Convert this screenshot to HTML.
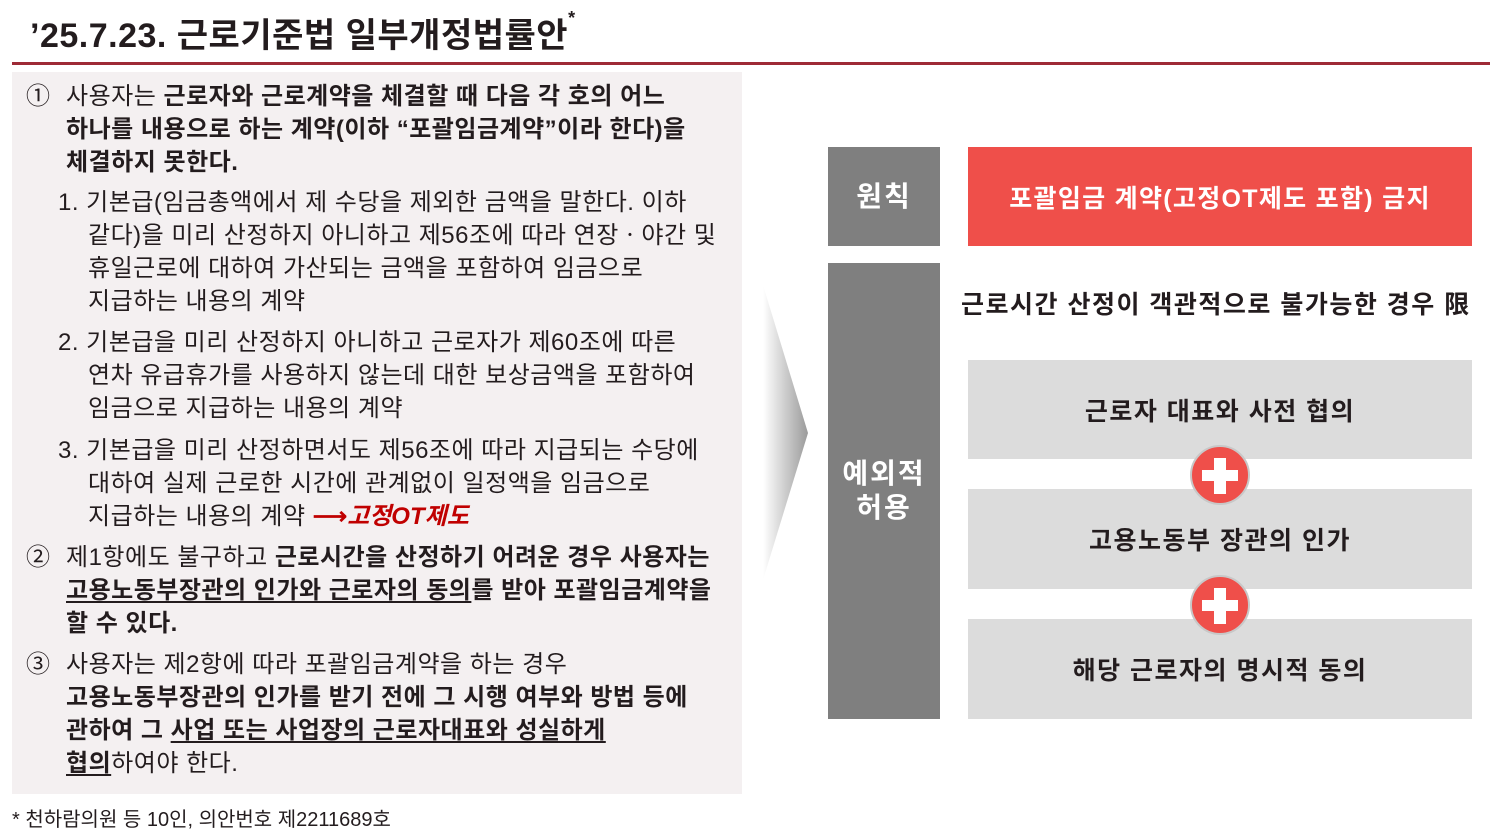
<!DOCTYPE html>
<html><head><meta charset="utf-8"><style>
*{margin:0;padding:0;box-sizing:border-box}
body{width:1493px;height:839px;background:#fff;position:relative;overflow:hidden;font-family:"Liberation Sans","Noto Sans CJK KR",sans-serif;color:#231c1e}
.a{position:absolute;white-space:nowrap}
.t{font-size:34px;font-weight:bold;left:30px;top:8px;letter-spacing:0.5px}
.rule{left:12px;top:62px;width:1478px;height:3px;background:#9e2a36}
.panel{left:12px;top:72px;width:730px;height:722px;background:#f4f0f1}
.l{font-size:24px;line-height:30px;letter-spacing:0.5px}
b{font-weight:bold}
u{text-decoration:underline;text-underline-offset:3px}
.gbox{background:#7f7f7f;color:#fff;font-weight:bold;font-size:28px;letter-spacing:2px;display:flex;align-items:center;justify-content:center;text-align:center;line-height:34px}
.lb{background:#dcdcdc;display:flex;align-items:center;justify-content:center;font-weight:bold;font-size:25px;letter-spacing:1.5px}
.plus{width:60px;height:60px;border-radius:50%;background:#ef4f4a;border:2px solid #c8c8c8}
.plus:before,.plus:after{content:"";position:absolute;background:#fff}
.plus:before{left:10px;top:23px;width:36px;height:11px}
.plus:after{left:22px;top:11px;width:12px;height:36px}
</style></head><body>
<div class="a t">’25.7.23. 근로기준법 일부개정법률안<span style="font-size:18px;vertical-align:top">*</span></div>
<div class="a rule"></div>
<div class="a panel"></div>

<div class="a l" style="left:26px;top:82px">①</div>
<div class="a l" style="left:66px;top:82px">사용자는 <b>근로자와 근로계약을 체결할 때 다음 각 호의 어느</b></div>
<div class="a l" style="left:66px;top:115px"><b>하나를 내용으로 하는 계약(이하 “포괄임금계약”이라 한다)을</b></div>
<div class="a l" style="left:66px;top:148px"><b>체결하지 못한다.</b></div>

<div class="a l" style="left:58px;top:188px">1. 기본급(임금총액에서 제 수당을 제외한 금액을 말한다. 이하</div>
<div class="a l" style="left:88px;top:221px">같다)을 미리 산정하지 아니하고 제56조에 따라 연장ㆍ야간 및</div>
<div class="a l" style="left:88px;top:254px">휴일근로에 대하여 가산되는 금액을 포함하여 임금으로</div>
<div class="a l" style="left:88px;top:287px">지급하는 내용의 계약</div>

<div class="a l" style="left:58px;top:328px">2. 기본급을 미리 산정하지 아니하고 근로자가 제60조에 따른</div>
<div class="a l" style="left:88px;top:361px">연차 유급휴가를 사용하지 않는데 대한 보상금액을 포함하여</div>
<div class="a l" style="left:88px;top:394px">임금으로 지급하는 내용의 계약</div>

<div class="a l" style="left:58px;top:436px">3. 기본급을 미리 산정하면서도 제56조에 따라 지급되는 수당에</div>
<div class="a l" style="left:88px;top:469px">대하여 실제 근로한 시간에 관계없이 일정액을 임금으로</div>
<div class="a l" style="left:88px;top:502px">지급하는 내용의 계약 <span style="color:#c00000;font-weight:bold;font-style:italic;letter-spacing:0"><span style="font-style:normal;font-size:24px">⟶</span>고정OT제도</span></div>

<div class="a l" style="left:26px;top:543px">②</div>
<div class="a l" style="left:66px;top:543px">제1항에도 불구하고 <b>근로시간을 산정하기 어려운 경우 사용자는</b></div>
<div class="a l" style="left:66px;top:576px"><b><u>고용노동부장관의 인가와 근로자의 동의</u>를 받아 포괄임금계약을</b></div>
<div class="a l" style="left:66px;top:609px"><b>할 수 있다.</b></div>

<div class="a l" style="left:26px;top:650px">③</div>
<div class="a l" style="left:66px;top:650px">사용자는 제2항에 따라 포괄임금계약을 하는 경우</div>
<div class="a l" style="left:66px;top:683px"><b>고용노동부장관의 인가를 받기 전에 그 시행 여부와 방법 등에</b></div>
<div class="a l" style="left:66px;top:716px"><b>관하여 그 <u>사업 또는 사업장의 근로자대표와 성실하게</u></b></div>
<div class="a l" style="left:66px;top:749px"><b><u>협의</u></b>하여야 한다.</div>

<div class="a" style="left:12px;top:803px;font-size:20px">* 천하람의원 등 10인, 의안번호 제2211689호</div>

<svg class="a" style="left:755px;top:280px" width="60" height="310">
<defs><linearGradient id="g" x1="0" x2="1"><stop offset="0" stop-color="#fff"/><stop offset="1" stop-color="#9a9a9a"/></linearGradient></defs>
<polygon points="8,5 53,153 8,300" fill="url(#g)"/></svg>

<div class="a gbox" style="left:828px;top:147px;width:112px;height:99px">원칙</div>
<div class="a" style="left:968px;top:147px;width:504px;height:99px;background:#ef4f4a;color:#fff;font-weight:bold;font-size:25px;letter-spacing:1.3px;display:flex;align-items:center;justify-content:center">포괄임금 계약(고정OT제도 포함) 금지</div>
<div class="a gbox" style="left:828px;top:263px;width:112px;height:456px">예외적<br>허용</div>
<div class="a" style="left:961px;top:285px;font-weight:bold;font-size:25px;letter-spacing:1.5px">근로시간 산정이 객관적으로 불가능한 경우 限</div>
<div class="a lb" style="left:968px;top:360px;width:504px;height:99px">근로자 대표와 사전 협의</div>
<div class="a lb" style="left:968px;top:489px;width:504px;height:100px">고용노동부 장관의 인가</div>
<div class="a lb" style="left:968px;top:619px;width:504px;height:100px">해당 근로자의 명시적 동의</div>
<div class="a plus" style="left:1190px;top:445px"></div>
<div class="a plus" style="left:1190px;top:575px"></div>
</body></html>
